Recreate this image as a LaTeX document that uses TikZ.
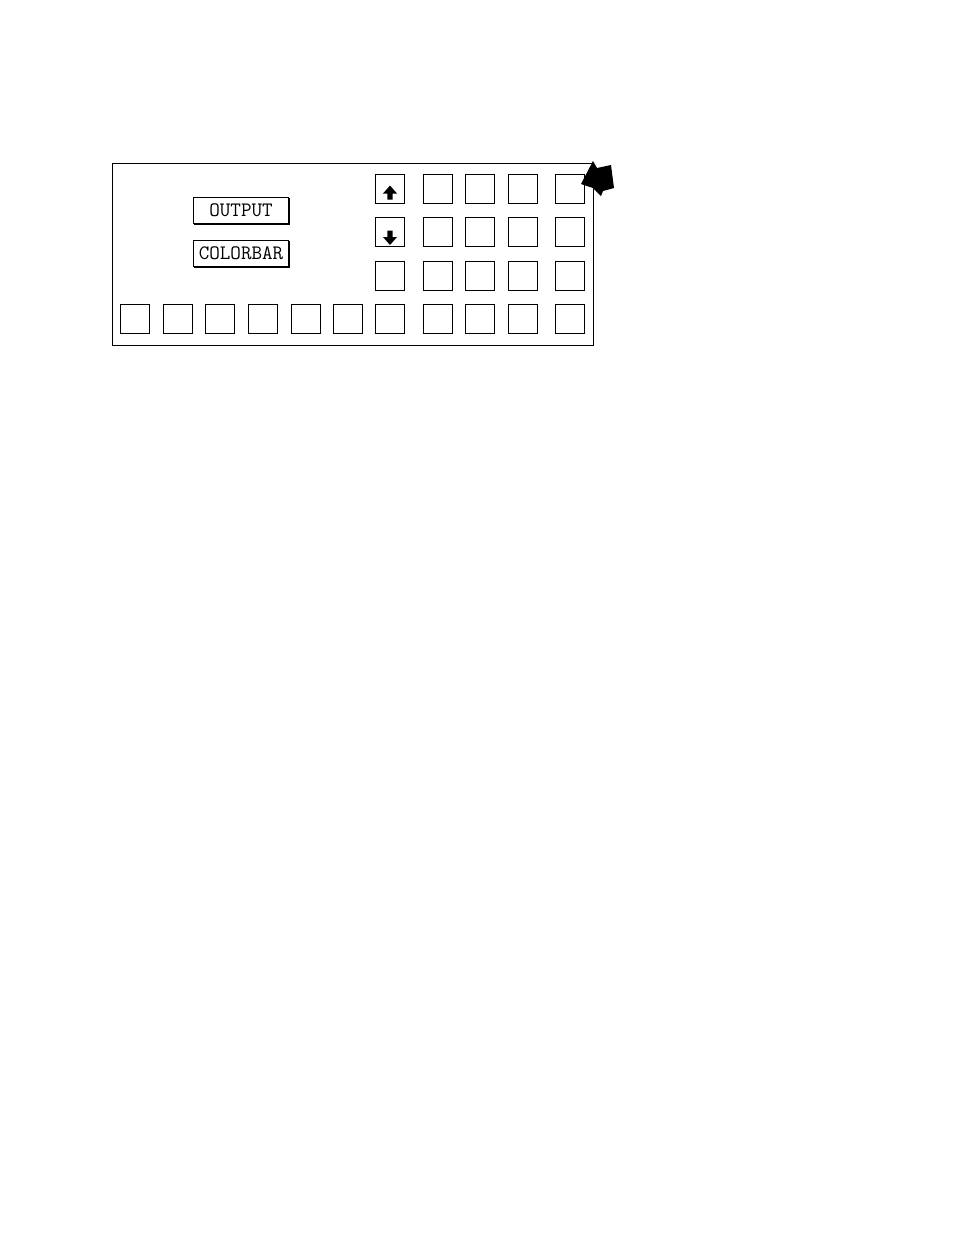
\documentclass[tikz,border=0pt]{standalone}
\begin{document}
\begin{tikzpicture}[x=1pt,y=-1pt,
  sq/.style={draw,line width=1pt,minimum size=29pt,inner sep=0pt,outer sep=0pt},
  lbl/.style={draw,line width=1pt,minimum width=95pt,minimum height=26pt,inner sep=0pt,outer sep=0pt,font=\ttfamily\fontsize{20.5}{22}\selectfont},
  frm/.style={draw,line width=1pt,inner sep=0pt,outer sep=0pt},
  blk/.style={fill=black,draw=none}]
\useasboundingbox (0,0) rectangle (954,1235);
\node[frm,minimum width=481pt,minimum height=182pt,anchor=north west] (frame) at (112.5,163.5) {};
% bottom row
\foreach \x [count=\i] in {135,177.5,220,262.5,305.5,348,390,438,480,523,570}
  \node[sq] (b\i) at (\x,319) {};
% upper grid
\foreach \y [count=\r] in {189,232,276}
  \foreach \x [count=\c] in {390,438,480,523,570}
    \node[sq] (g\r\c) at (\x,\y) {};
% labels
\node[lbl] (out) at (241,210.5) {OUTPUT};
\node[lbl] (cbar) at (241,253.5) {COLORBAR};
\draw[line width=2pt] (out.north east) -- (out.south east) -- (out.south west);
\draw[line width=2pt] (cbar.north east) -- (cbar.south east) -- (cbar.south west);
% arrow icons
\begin{scope}[shift={(g11.center)}]
  \fill[blk] (-7,4.5) -- (0,-3.5) -- (7,4.5) -- (2.7,4.5) -- (2.7,10.5) -- (-2.7,10.5) -- (-2.7,4.5) -- cycle;
\end{scope}
\begin{scope}[shift={(g21.center)}]
  \fill[blk] (-7,5) -- (0,13) -- (7,5) -- (2.7,5) -- (2.7,-1.5) -- (-2.7,-1.5) -- (-2.7,5) -- cycle;
\end{scope}
% pointer
\coordinate (ptip) at (593,161);
\fill[blk] (ptip) -- (581,184) -- (593,188) -- (601,196) -- (603,191) -- (614,188) -- (611,165) -- (597,168) -- cycle;
\end{tikzpicture}
\end{document}
